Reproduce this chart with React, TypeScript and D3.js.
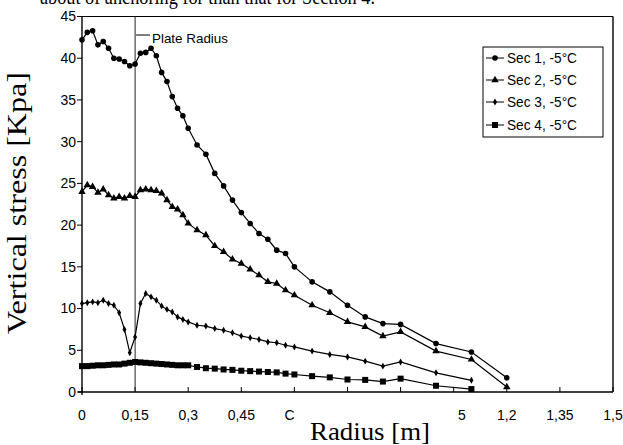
import React from "react";
import * as d3 from "d3";

const radiusLong = [0, 0.015, 0.03, 0.045, 0.06, 0.075, 0.09, 0.105, 0.12, 0.135, 0.15, 0.165, 0.18, 0.195, 0.21, 0.225, 0.24, 0.255, 0.27, 0.285, 0.3,
  0.325, 0.35, 0.375, 0.4, 0.425, 0.45, 0.475, 0.5, 0.525, 0.55, 0.575, 0.6,
  0.65, 0.7, 0.75, 0.8, 0.85, 0.9, 1.0, 1.1, 1.2];
const radiusShort = [0, 0.015, 0.03, 0.045, 0.06, 0.075, 0.09, 0.105, 0.12, 0.135, 0.15, 0.165, 0.18, 0.195, 0.21, 0.225, 0.24, 0.255, 0.27, 0.285, 0.3,
  0.325, 0.35, 0.375, 0.4, 0.425, 0.45, 0.475, 0.5, 0.525, 0.55, 0.575, 0.6,
  0.65, 0.7, 0.75, 0.8, 0.85, 0.9, 1.0, 1.1];

const sec1 = [42.2, 43.1, 43.3, 41.6, 42.0, 41.2, 40.0, 39.9, 39.6, 39.1, 39.3, 40.6, 40.7, 41.2, 40.3, 38.3, 37.2, 35.4, 34.0, 33.1, 31.6,
  29.6, 28.5, 26.2, 24.7, 23.0, 21.5, 20.2, 19.0, 18.3, 17.0, 16.6, 15.0,
  13.2, 12.0, 10.4, 9.0, 8.2, 8.1, 5.8, 4.8, 1.7];
const sec2 = [24.0, 24.8, 24.6, 23.9, 24.3, 23.6, 23.2, 23.4, 23.2, 23.5, 23.4, 24.2, 24.3, 24.2, 24.1, 23.8, 23.0, 22.2, 21.9, 21.2, 20.2,
  19.4, 18.8, 17.5, 16.8, 15.9, 15.4, 14.7, 14.0, 13.2, 13.0, 12.2, 11.6,
  10.4, 9.5, 8.4, 7.8, 6.7, 7.2, 4.9, 3.9, 0.6];
const sec3 = [10.6, 10.7, 10.8, 10.7, 11.0, 10.6, 10.4, 9.5, 7.5, 4.7, 6.6, 10.6, 11.8, 11.4, 11.0, 10.3, 9.9, 9.6, 9.0, 8.7, 8.4,
  8.0, 7.9, 7.6, 7.4, 7.1, 6.7, 6.5, 6.3, 6.0, 5.9, 5.6, 5.4,
  4.9, 4.5, 4.2, 3.7, 3.1, 3.6, 2.3, 1.4];
const sec4 = [3.1, 3.1, 3.15, 3.2, 3.2, 3.25, 3.3, 3.3, 3.4, 3.5, 3.6, 3.55, 3.5, 3.45, 3.4, 3.35, 3.3, 3.25, 3.2, 3.2, 3.2,
  3.0, 2.85, 2.8, 2.7, 2.65, 2.55, 2.5, 2.45, 2.4, 2.35, 2.2, 2.1,
  1.9, 1.75, 1.5, 1.45, 1.25, 1.6, 0.75, 0.35];

const seriesNames = ["Sec 1, -5°C", "Sec 2, -5°C", "Sec 3, -5°C", "Sec 4, -5°C"];
const xTicks = [0, 0.15, 0.3, 0.45, 0.6, 0.75, 0.9, 1.05, 1.2, 1.35, 1.5];
const xTickLabels = ["0", "0,15", "0,3", "0,45", "C", "", "", "5", "1,2", "1,35", "1,5"];
const yTicks = [0, 5, 10, 15, 20, 25, 30, 35, 40, 45];
const plateRadius = 0.15;

const SANS = "'Liberation Sans', Arial, sans-serif";
const SERIF = "'Liberation Serif', 'Times New Roman', serif";

function Marker({ kind, x, y }: { kind: number; x: number; y: number }) {
  if (kind === 0) return <circle cx={x} cy={y} r={2.8} fill="#000" />;
  if (kind === 1) return <path d={d3.symbol(d3.symbolTriangle, 24)() || ""} transform={`translate(${x},${y})`} fill="#000" />;
  if (kind === 2) return <path d={d3.symbol(d3.symbolDiamond, 14)() || ""} transform={`translate(${x},${y})`} fill="#000" />;
  return <rect x={x - 3} y={y - 3} width={6} height={6} fill="#000" />;
}

export default function App() {
  const x = d3.scaleLinear().domain([0, 1.5]).range([82, 613]);
  const y = d3.scaleLinear().domain([0, 45]).range([392, 16.5]);
  const series = [
    { r: radiusLong, v: sec1 },
    { r: radiusLong, v: sec2 },
    { r: radiusShort, v: sec3 },
    { r: radiusShort, v: sec4 },
  ];
  const line = d3.line<[number, number]>().x((d) => x(d[0])).y((d) => y(d[1]));
  const legendY = [58, 80, 102, 125];

  return (
    <svg width={623} height={445} style={{ position: "absolute", left: 0, top: 0, background: "#fff" }}>
      <rect width={623} height={445} fill="#fff" />
      {/* cut-off document text (only its lower part shows, as in the scan) */}
      <text x={40} y={4} fontFamily={SERIF} fontSize={20} textLength={335} lengthAdjust="spacingAndGlyphs" fill="#000">
        about of anchoring for than that for Section 4.
      </text>

      {/* frame */}
      <line x1={x(0)} x2={x(1.5)} y1={y(45)} y2={y(45)} stroke="#000" strokeWidth={1.2} />
      <line x1={x(1.5)} x2={x(1.5)} y1={y(45)} y2={y(0)} stroke="#000" strokeWidth={1.4} />
      <line x1={x(0)} x2={x(0)} y1={y(45)} y2={y(0) + 3} stroke="#000" strokeWidth={1.4} />
      <line x1={x(0) - 4} x2={x(1.5)} y1={y(0)} y2={y(0)} stroke="#000" strokeWidth={1.3} />

      {/* y ticks */}
      {yTicks.map((t) => (
        <g key={t}>
          <line x1={x(0) - 5} x2={x(0)} y1={y(t)} y2={y(t)} stroke="#000" strokeWidth={1} />
          <text x={x(0) - 6} y={y(t)} dy="0.35em" textAnchor="end" fontFamily={SANS} fontSize={14} fill="#000">{t}</text>
        </g>
      ))}

      {/* x ticks */}
      {xTicks.map((t, i) => {
        const lab = xTickLabels[i];
        const anchor = lab === "C" ? "start" : lab === "5" ? "end" : "middle";
        const dx = lab === "C" ? -10 : lab === "5" ? 12 : 0;
        return (
          <g key={t}>
            <line x1={x(t)} x2={x(t)} y1={y(0)} y2={y(0) - 5} stroke="#000" strokeWidth={1} />
            <text x={x(t) + dx} y={420} textAnchor={anchor} fontFamily={SANS} fontSize={14} fill="#000">{lab}</text>
          </g>
        );
      })}

      {/* plate radius line */}
      <line x1={x(plateRadius)} x2={x(plateRadius)} y1={y(45)} y2={y(0)} stroke="#222" strokeWidth={1} />
      <line x1={x(plateRadius) + 1} x2={x(plateRadius) + 15} y1={35} y2={35} stroke="#000" strokeWidth={1} />
      <text x={152} y={43} fontFamily={SANS} fontSize={13.5} fill="#000" textLength={76} lengthAdjust="spacingAndGlyphs">Plate Radius</text>

      {/* series */}
      {series.map((s, k) => {
        const pts = s.r.map((r, i) => [r, s.v[i]] as [number, number]);
        return (
          <g key={k}>
            <path d={line(pts) || ""} fill="none" stroke="#000" strokeWidth={1.2} />
            {pts.map((p, i) => <Marker key={i} kind={k} x={x(p[0])} y={y(p[1])} />)}
          </g>
        );
      })}

      {/* legend */}
      <rect x={483} y={47} width={120} height={90} fill="#fff" stroke="#000" strokeWidth={1} />
      {seriesNames.map((n, k) => (
        <g key={n}>
          <line x1={486} x2={504} y1={legendY[k]} y2={legendY[k]} stroke="#000" strokeWidth={1} />
          <Marker kind={k} x={495} y={legendY[k]} />
          <text x={507} y={legendY[k]} dy="0.36em" fontFamily={SANS} fontSize={15} textLength={70} lengthAdjust="spacingAndGlyphs" fill="#000">{n}</text>
        </g>
      ))}

      {/* axis titles */}
      <text x={370} y={440} textAnchor="middle" fontFamily={SERIF} fontSize={26} textLength={120} lengthAdjust="spacingAndGlyphs" fill="#000">Radius [m]</text>
      <text transform="translate(26,203) rotate(-90)" textAnchor="middle" fontFamily={SERIF} fontSize={27} textLength={262} lengthAdjust="spacingAndGlyphs" fill="#000">Vertical stress [Kpa]</text>
    </svg>
  );
}
